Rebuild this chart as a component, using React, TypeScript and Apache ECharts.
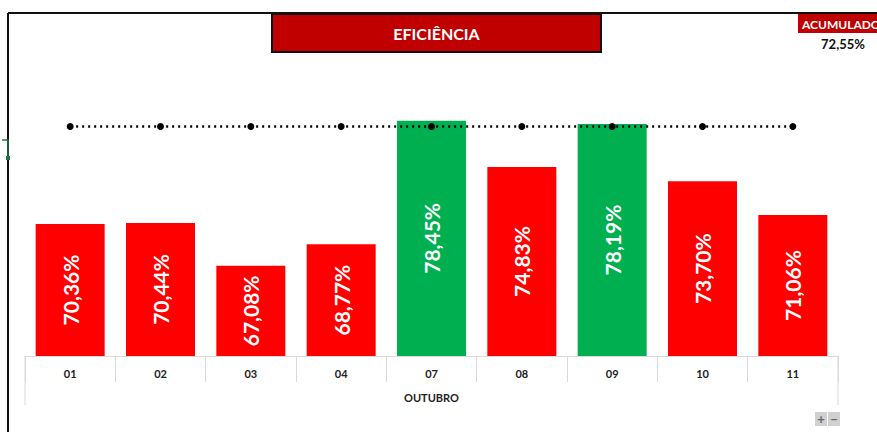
import React, { useEffect, useRef } from "react";
import * as echarts from "echarts";

const categories = ["01", "02", "03", "04", "07", "08", "09", "10", "11"];
const efficiency = [70.36, 70.44, 67.08, 68.77, 78.45, 74.83, 78.19, 73.7, 71.06];
const target = [78, 78, 78, 78, 78, 78, 78, 78, 78];
const monthLabel = "OUTUBRO";
const titleText = "EFICIÊNCIA";
const accumulatedLabel = "ACUMULADO";
const accumulatedValue = "72,55%";

const FONT = "Lato, 'Open Sans', sans-serif";

export default function App() {
  const ref = useRef<HTMLDivElement>(null);
  useEffect(() => {
    if (!ref.current) return;
    const chart = echarts.init(ref.current, undefined, { renderer: "svg" });
    const fmt = (v: number) => v.toFixed(2).replace(".", ",") + "%";
    chart.setOption({
      animation: false,
      backgroundColor: "#ffffff",
      grid: { left: 25, right: 39, top: 101, bottom: 76 },
      xAxis: {
        type: "category",
        data: categories,
        boundaryGap: true,
        axisLine: { show: true, lineStyle: { color: "#d9d9d9", width: 1 } },
        axisTick: { show: true, interval: 0, length: 26, lineStyle: { color: "#d9d9d9" } },
        axisLabel: { color: "#222", fontFamily: FONT, fontWeight: "bold", fontSize: 11, margin: 12 },
        name: monthLabel,
        nameLocation: "middle",
        nameGap: 36,
        nameTextStyle: { color: "#222", fontFamily: FONT, fontWeight: "bold", fontSize: 11 },
      },
      yAxis: {
        type: "value",
        min: 60,
        max: 80,
        show: false,
        splitLine: { show: false },
      },
      series: [
        {
          type: "bar",
          data: efficiency.map((v, i) => ({
            value: v,
            itemStyle: { color: v >= target[i] ? "#00B050" : "#FF0000" },
          })),
          barWidth: 69,
          label: {
            show: true,
            position: "inside",
            rotate: 90,
            formatter: (p: any) => fmt(p.value),
            color: "#ffffff",
            fontFamily: FONT,
            fontWeight: "bold",
            fontSize: 21,
          },
        },
        {
          type: "line",
          data: target,
          symbol: "circle",
          symbolSize: 7,
          itemStyle: { color: "#000000" },
          lineStyle: { color: "#000000", type: [2, 4], width: 2.5 },
          z: 5,
        },
      ],
      graphic: [
        { type: "line", shape: { x1: 8, y1: 13, x2: 877, y2: 13 }, style: { stroke: "#111", lineWidth: 2 } },
        { type: "line", shape: { x1: 8, y1: 13, x2: 8, y2: 432 }, style: { stroke: "#111", lineWidth: 2 } },
        { type: "line", shape: { x1: 25, y1: 356, x2: 25, y2: 405 }, style: { stroke: "#d9d9d9", lineWidth: 1 } },
        { type: "line", shape: { x1: 838, y1: 356, x2: 838, y2: 405 }, style: { stroke: "#d9d9d9", lineWidth: 1 } },
        {
          type: "rect",
          shape: { x: 272, y: 14, width: 329, height: 38 },
          style: { fill: "#C00000", stroke: "#111", lineWidth: 2 },
        },
        {
          type: "text",
          x: 436.5,
          y: 33,
          style: {
            text: titleText,
            fill: "#ffffff",
            font: `bold 16px ${FONT}`,
            align: "center",
            verticalAlign: "middle",
          },
        },
        {
          type: "rect",
          shape: { x: 798, y: 14, width: 79, height: 19 },
          style: { fill: "#C00000" },
        },
        {
          type: "text",
          x: 802,
          y: 24,
          style: {
            text: accumulatedLabel,
            fill: "#ffffff",
            font: `bold 12px ${FONT}`,
            align: "left",
            verticalAlign: "middle",
          },
        },
        {
          type: "text",
          x: 843,
          y: 44,
          style: {
            text: accumulatedValue,
            fill: "#111",
            font: `bold 13px ${FONT}`,
            align: "center",
            verticalAlign: "middle",
          },
        },
        { type: "rect", shape: { x: 815, y: 412, width: 12, height: 14 }, style: { fill: "#d0d0d0" } },
        { type: "rect", shape: { x: 828, y: 412, width: 12, height: 14 }, style: { fill: "#d0d0d0" } },
        { type: "text", x: 821, y: 419, style: { text: "+", fill: "#666", font: `bold 13px ${FONT}`, align: "center", verticalAlign: "middle" } },
        { type: "text", x: 834, y: 419, style: { text: "−", fill: "#666", font: `bold 13px ${FONT}`, align: "center", verticalAlign: "middle" } },
        { type: "polyline", shape: { points: [[2, 140], [8, 140], [8, 157]] }, style: { stroke: "#217346", lineWidth: 1.5, fill: "none" } },
        { type: "rect", shape: { x: 6, y: 156, width: 4, height: 4 }, style: { fill: "#217346" } },
      ],
    });
    return () => chart.dispose();
  }, []);
  return <div ref={ref} style={{ position: "absolute", left: 0, top: 0, width: 877, height: 432 }} />;
}
